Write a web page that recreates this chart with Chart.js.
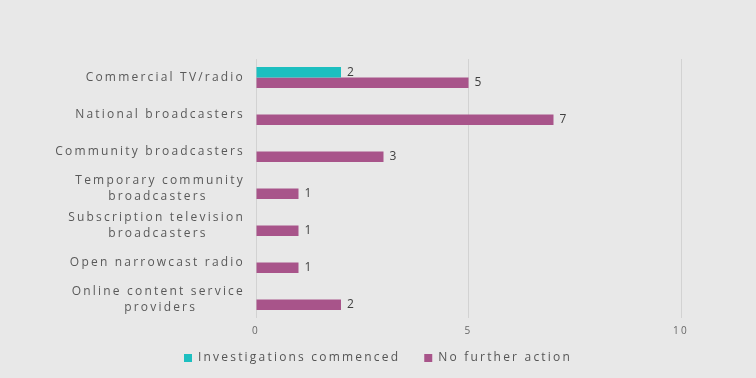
<!DOCTYPE html>
<html>
<head>
<meta charset="utf-8">
<script src="https://cdn.jsdelivr.net/npm/chart.js@4"></script>
<style>
  html, body { margin: 0; padding: 0; background: #e8e8e8; }
  #wrap { width: 756px; height: 378px; }
</style>
</head>
<body>
<div id="wrap"><canvas id="chart"></canvas></div>
<script>
// categories (multi-line ones padded with trailing spaces so the short line sits centred)
const categories = [
  "Commercial TV/radio",
  "National broadcasters",
  "Community broadcasters",
  ["Temporary community", "broadcasters       "],
  ["Subscription television", "broadcasters       "],
  "Open narrowcast radio",
  ["Online content service", "providers         "]
];
const investigations = [2, null, null, null, null, null, null];
const noFurtherAction = [5, 7, 3, 1, 1, 1, 2];
const xTicks = [0, 5, 10];

// canvas letter spacing (reset whenever the canvas is resized) + legend placement
const tweaks = {
  id: "tweaks",
  beforeLayout(chart) {
    chart.ctx.letterSpacing = "2.2px";
    const lg = chart.legend;
    if (lg && !lg._patched) {
      const fit = lg.fit;
      lg.fit = function () { fit.call(this); this.height = 30; };
      lg._patched = true;
    }
  },
  afterLayout(chart) {
    // centre legend on the whole canvas, not the padded area
    chart.legend.left = 0;
    chart.legend.right = chart.width;
    chart.legend.top = 328;
  },
  beforeDraw(chart) { chart.ctx.letterSpacing = "2.2px"; }
};

// value labels at the end of each bar
const valueLabels = {
  id: "valueLabels",
  afterDatasetsDraw(chart) {
    const ctx = chart.ctx;
    ctx.save();
    ctx.letterSpacing = "0px";
    ctx.font = "12px 'Open Sans'";
    ctx.fillStyle = "#404040";
    ctx.textBaseline = "middle";
    ctx.textAlign = "left";
    chart.data.datasets.forEach((ds, i) => {
      chart.getDatasetMeta(i).data.forEach((bar, j) => {
        if (ds.data[j] == null) return;
        ctx.fillText(ds.data[j], bar.x + 6, bar.y);
      });
    });
    ctx.restore();
  }
};

new Chart(document.getElementById("chart"), {
  type: "bar",
  data: {
    labels: categories,
    datasets: [
      {
        label: "Investigations commenced",
        data: investigations,
        backgroundColor: "#1dbfc0"
      },
      {
        label: "No further action",
        data: noFurtherAction,
        backgroundColor: "#a8548a"
      }
    ]
  },
  options: {
    indexAxis: "y",
    responsive: true,
    maintainAspectRatio: false,
    animation: false,
    barPercentage: 1,
    categoryPercentage: 0.57,
    layout: { padding: { top: 59, right: 75, bottom: 0, left: 0 } },
    scales: {
      x: {
        min: 0,
        max: 10,
        afterBuildTicks: (scale) => { scale.ticks = xTicks.map(v => ({ value: v })); },
        afterFit: (scale) => { scale.height = 30; },
        grid: { color: "#d2d2d2", borderDash: [2, 2], drawTicks: false },
        border: { display: false },
        ticks: { color: "#666", font: { family: "Open Sans", size: 10 }, padding: 7 }
      },
      y: {
        grid: { display: false, drawTicks: false },
        border: { display: false },
        afterFit: (scale) => { scale.width = 256; },
        ticks: { color: "#595959", font: { family: "Open Sans", size: 12, lineHeight: 1.35 }, padding: 11 }
      }
    },
    plugins: {
      tooltip: { enabled: false },
      legend: {
        position: "bottom",
        labels: {
          boxWidth: 8,
          boxHeight: 8,
          padding: 24,
          color: "#555",
          font: { family: "Open Sans", size: 12 }
        }
      }
    }
  },
  plugins: [tweaks, valueLabels]
});
</script>
</body>
</html>
